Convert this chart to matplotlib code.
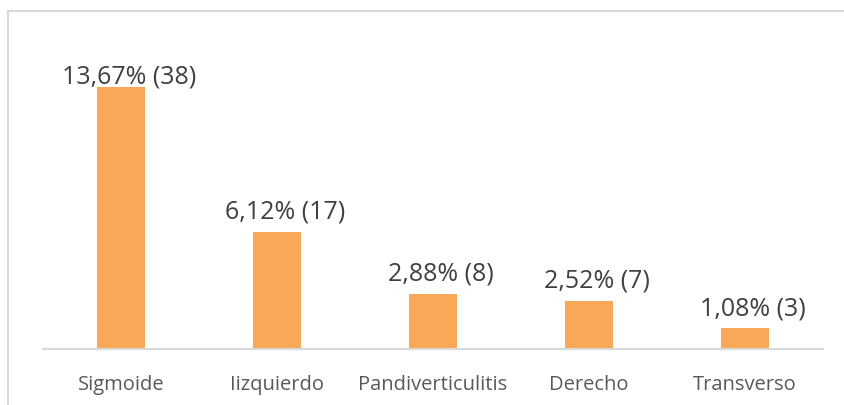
import matplotlib
matplotlib.use("Agg")
import matplotlib.pyplot as plt
from matplotlib.lines import Line2D

categories = ["Sigmoide", "Iizquierdo", "Pandiverticulitis", "Derecho", "Transverso"]
percentages = [13.67, 6.12, 2.88, 2.52, 1.08]
counts = [38, 17, 8, 7, 3]

plt.rcParams['font.family'] = ['Open Sans', 'DejaVu Sans']

fig = plt.figure(figsize=(8.45, 4.05), dpi=100)
W, H = 845, 405
ax = fig.add_axes([43 / W, (H - 349) / H, 780 / W, 319 / H])

x = list(range(len(categories)))
ax.bar(x, percentages, width=0.31, color='#F9A857', zorder=2)

ax.set_xlim(-0.5, 4.5)
ax.set_ylim(0, 16.64)

# label placement: ~13 px above bar, but kept below the plot-area top (like Excel)
ymax = ax.get_ylim()[1]
px_per_unit = 319 / ymax
top_limit_px = 266  # highest allowed baseline (px above axis)
for xi, p, c in zip(x, percentages, counts):
    label = f"{p:.2f}".replace('.', ',') + f"% ({c})"
    bar_px = p * px_per_unit
    off_px = min(13, top_limit_px - bar_px)
    ax.annotate(label, (xi, p), xytext=(5.5, off_px * 0.72), textcoords='offset points',
                ha='center', va='baseline', fontsize=18, color='#404040',
                annotation_clip=False)

ax.set_xticks(x)
ax.set_xticklabels(categories, fontsize=14.5, color='#595959')
ax.tick_params(axis='x', length=0, pad=18.5)
ax.set_yticks([])
for s in ['top', 'right', 'left']:
    ax.spines[s].set_visible(False)
ax.spines['bottom'].set_color('#D9D9D9')
ax.spines['bottom'].set_linewidth(1.5)

# chart frame (partially visible)
fig.add_artist(Line2D([8 / W, 8 / W], [0, 1 - 11 / H], transform=fig.transFigure,
                      color='#D9D9D9', lw=1.5))
fig.add_artist(Line2D([8 / W, 1], [1 - 11 / H, 1 - 11 / H], transform=fig.transFigure,
                      color='#D9D9D9', lw=1.5))

fig.savefig("out.png", dpi=100)
